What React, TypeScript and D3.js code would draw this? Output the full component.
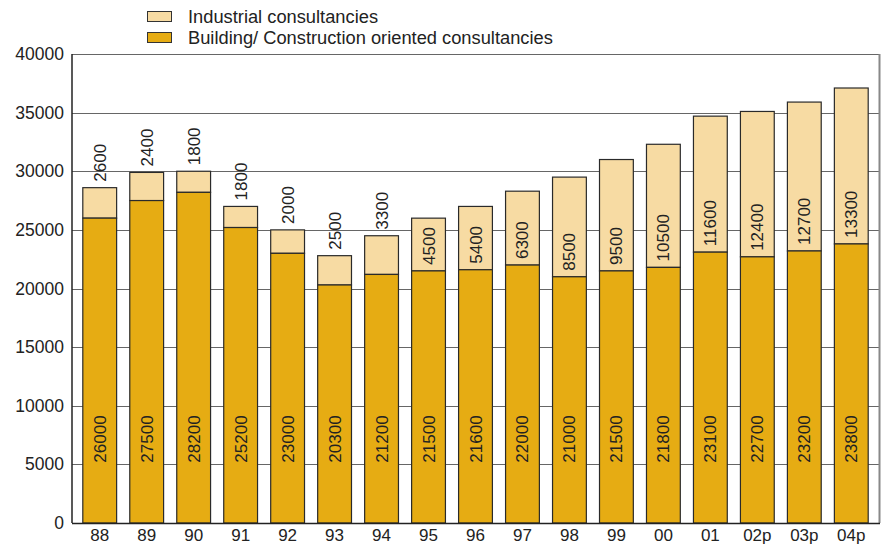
import React from "react";
import * as d3 from "d3";

const categories = ["88","89","90","91","92","93","94","95","96","97","98","99","00","01","02p","03p","04p"];
const building = [26000,27500,28200,25200,23000,20300,21200,21500,21600,22000,21000,21500,21800,23100,22700,23200,23800];
const industrial = [2600,2400,1800,1800,2000,2500,3300,4500,5400,6300,8500,9500,10500,11600,12400,12700,13300];
const yTicks = [0,5000,10000,15000,20000,25000,30000,35000,40000];
const seriesNames = ["Industrial consultancies","Building/ Construction oriented consultancies"];
const colors = ["#F7DBA3","#E6AC13"];

const W = 887, H = 545;
const left = 72, right = 879, top = 54, bottom = 523;
const font = "Liberation Sans, Arial, sans-serif";

export default function App() {
  const x = d3.scaleBand<string>().domain(categories).range([left, right]).paddingInner(0.28).paddingOuter(0.23);
  const y = d3.scaleLinear().domain([0, 40000]).range([bottom, top]);
  const bw = x.bandwidth();
  return (
    <svg width={W} height={H} style={{position:"absolute", left:0, top:0, background:"#fff"}} fontFamily={font}>
      {/* legend */}
      {seriesNames.map((n, i) => (
        <g key={n}>
          <rect x={147.5} y={11.5 + i*21} width={24} height={10} fill={colors[i]} stroke="#333" strokeWidth={1} />
          <text x={188} y={22.5 + i*21} fontSize={18.3} fill="#222">{n}</text>
        </g>
      ))}
      {/* gridlines */}
      {yTicks.map(t => (
        <g key={t}>
          {t > 0 && <line x1={left} x2={right} y1={Math.round(y(t))+0.5} y2={Math.round(y(t))+0.5} stroke="#666" strokeWidth={1} />}
          <text x={64} y={y(t)+6} textAnchor="end" fontSize={17.5} fill="#222">{t}</text>
        </g>
      ))}
      <line x1={right+0.5} x2={right+0.5} y1={top} y2={bottom} stroke="#888" strokeWidth={2} />
      {/* bars */}
      {categories.map((c, i) => {
        const x0 = x(c)!;
        const b = building[i], ind = industrial[i];
        const yb = y(b), yt = y(b + ind);
        const cx = x0 + bw/2;
        const indInside = ind >= 4000;
        const indY = indInside ? yb - 6 : yt - 6;
        return (
          <g key={c}>
            <rect x={x0} y={yt} width={bw} height={yb - yt} fill={colors[0]} stroke="#2a2a2a" strokeWidth={1.2} />
            <rect x={x0} y={yb} width={bw} height={bottom - yb} fill={colors[1]} stroke="#2a2a2a" strokeWidth={1.2} />
            <text transform={`translate(${cx+6},${indY}) rotate(-90)`} fontSize={17} fill="#222" textAnchor="start">{ind}</text>
            <text transform={`translate(${cx+6},${439}) rotate(-90)`} fontSize={17} fill="#222" textAnchor="middle">{b}</text>
            <text x={cx} y={540.5} textAnchor="middle" fontSize={17} fill="#222">{c}</text>
          </g>
        );
      })}
      {/* axes */}
      <line x1={left} x2={left} y1={top} y2={bottom} stroke="#222" strokeWidth={1.5} />
      <line x1={left} x2={right+1} y1={bottom+0.5} y2={bottom+0.5} stroke="#222" strokeWidth={1.5} />
    </svg>
  );
}
